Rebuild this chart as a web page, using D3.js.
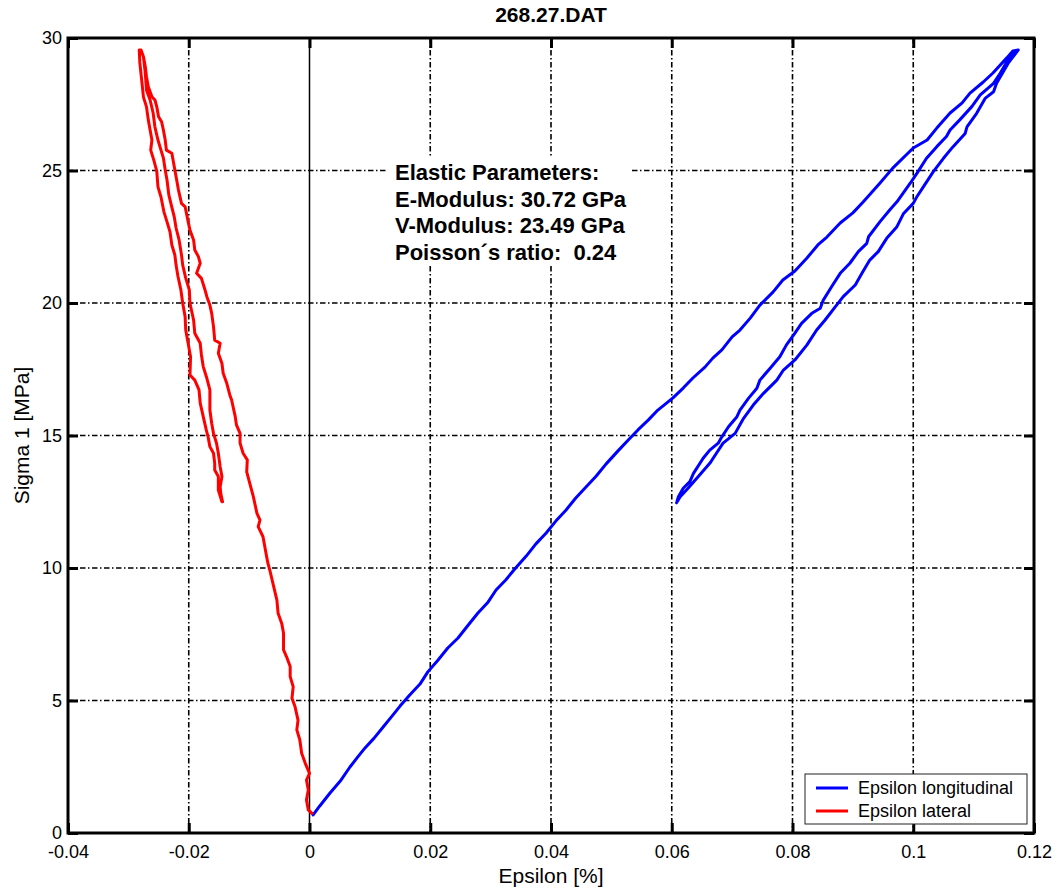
<!DOCTYPE html>
<html>
<head>
<meta charset="utf-8">
<script src="https://cdn.jsdelivr.net/npm/d3@7"></script>
<style>
  body { margin: 0; background: #fff; }
  svg { display: block; }
  text { font-family: "Liberation Sans", Arial, Helvetica, sans-serif; fill: #000; }
</style>
</head>
<body>
<svg id="chart" width="1059" height="890"></svg>
<script>
// ---- chart content -------------------------------------------------------
const chartTitle = "268.27.DAT";
const xTitle = "Epsilon [%]";
const yTitle = "Sigma 1 [MPa]";
const xTicks = [-0.04, -0.02, 0, 0.02, 0.04, 0.06, 0.08, 0.1, 0.12];
const xTickLabels = ["-0.04", "-0.02", "0", "0.02", "0.04", "0.06", "0.08", "0.1", "0.12"];
const yTicks = [0, 5, 10, 15, 20, 25, 30];
const yTickLabels = ["0", "5", "10", "15", "20", "25", "30"];
const seriesNames = ["Epsilon longitudinal", "Epsilon lateral"];
const seriesColors = ["#0000ff", "#ff0000"];
const infoLines = ["Elastic Parameters:", "E-Modulus: 30.72 GPa", "V-Modulus: 23.49 GPa", "Poisson\u00b4s ratio:  0.24"];

// ---- measured strain [%] / stress [MPa] pairs ----------------------------
// longitudinal strain: first loading, unloading, reloading
const longLoading = [[0.0006,0.68],[0.0017,1.02],[0.0034,1.51],[0.0051,1.96],[0.0067,2.49],[0.0080,2.87],[0.0092,3.21],[0.0107,3.58],[0.0122,4.00],[0.0137,4.42],[0.0150,4.79],[0.0166,5.21],[0.0183,5.62],[0.0196,6.08],[0.0213,6.53],[0.0229,6.98],[0.0246,7.36],[0.0263,7.85],[0.0279,8.30],[0.0296,8.72],[0.0309,9.17],[0.0325,9.55],[0.0340,9.96],[0.0359,10.45],[0.0375,10.91],[0.0392,11.32],[0.0408,11.77],[0.0425,12.19],[0.0441,12.64],[0.0458,13.06],[0.0475,13.47],[0.0491,13.92],[0.0511,14.42],[0.0528,14.83],[0.0544,15.21],[0.0561,15.58],[0.0577,15.96],[0.0602,16.42],[0.0619,16.79],[0.0635,17.17],[0.0655,17.58],[0.0668,17.92],[0.0683,18.23],[0.0700,18.72],[0.0713,18.98],[0.0730,19.43],[0.0746,19.92],[0.0768,20.42],[0.0784,20.87],[0.0804,21.21],[0.0824,21.70],[0.0842,22.19],[0.0857,22.49],[0.0879,23.02],[0.0900,23.40],[0.0917,23.81],[0.0945,24.53],[0.0966,25.09],[0.1000,25.85],[0.1023,26.15],[0.1039,26.60],[0.1061,27.17],[0.1081,27.55],[0.1094,27.92],[0.1116,28.34],[0.1132,28.68],[0.1155,29.25],[0.1165,29.51],[0.1174,29.55]];
const longUnloading = [[0.1157,29.04],[0.1138,28.29],[0.1133,27.97],[0.1119,27.72],[0.1105,27.16],[0.1089,26.65],[0.1086,26.40],[0.1066,25.90],[0.1050,25.46],[0.1033,24.95],[0.1017,24.39],[0.1006,24.01],[0.1000,23.76],[0.0984,23.38],[0.0973,22.88],[0.0956,22.44],[0.0942,21.94],[0.0928,21.62],[0.0915,21.12],[0.0904,20.68],[0.0884,20.24],[0.0873,19.92],[0.0854,19.36],[0.0840,18.98],[0.0824,18.42],[0.0804,17.85],[0.0785,17.47],[0.0774,17.09],[0.0752,16.59],[0.0735,16.15],[0.0719,15.65],[0.0705,15.08],[0.0685,14.71],[0.0674,14.33],[0.0663,13.95],[0.0644,13.45],[0.0627,13.01],[0.0614,12.69],[0.0608,12.46]];
const longReloading = [[0.0611,12.69],[0.0619,13.01],[0.0630,13.26],[0.0636,13.57],[0.0652,14.14],[0.0663,14.45],[0.0677,14.71],[0.0683,14.95],[0.0694,15.33],[0.0708,15.71],[0.0713,15.96],[0.0727,16.40],[0.0741,16.78],[0.0746,17.09],[0.0763,17.54],[0.0779,17.97],[0.0790,18.42],[0.0804,18.86],[0.0815,19.23],[0.0832,19.61],[0.0846,19.80],[0.0851,20.11],[0.0865,20.62],[0.0879,21.12],[0.0895,21.50],[0.0909,21.94],[0.0923,22.25],[0.0926,22.50],[0.0945,23.07],[0.0961,23.51],[0.0973,23.82],[0.0995,24.52],[0.1006,24.89],[0.1022,25.46],[0.1039,25.90],[0.1055,26.28],[0.1061,26.53],[0.1077,26.91],[0.1097,27.41],[0.1111,27.85],[0.1133,28.29],[0.1144,28.67],[0.1160,29.29],[0.1170,29.47]];

// lateral strain: first loading, unloading, reloading
const latLoading = [[0.0004,0.74],[-0.0002,0.87],[-0.0005,1.25],[-0.0002,1.62],[-0.0005,2.00],[0.0000,2.25],[-0.0007,2.63],[-0.0013,3.01],[-0.0016,3.51],[-0.0021,3.89],[-0.0019,4.26],[-0.0024,4.77],[-0.0029,5.08],[-0.0027,5.52],[-0.0032,5.90],[-0.0032,6.28],[-0.0038,6.65],[-0.0043,6.91],[-0.0043,7.54],[-0.0046,7.91],[-0.0052,8.29],[-0.0054,8.79],[-0.0060,9.36],[-0.0065,9.85],[-0.0069,10.19],[-0.0071,10.43],[-0.0074,10.80],[-0.0077,11.18],[-0.0085,11.56],[-0.0082,11.81],[-0.0087,12.06],[-0.0093,12.69],[-0.0099,13.20],[-0.0104,13.63],[-0.0103,14.08],[-0.0110,14.33],[-0.0115,14.71],[-0.0115,15.08],[-0.0121,15.40],[-0.0123,15.71],[-0.0129,16.34],[-0.0132,16.53],[-0.0137,16.97],[-0.0143,17.35],[-0.0145,17.72],[-0.0151,18.10],[-0.0148,18.48],[-0.0157,18.60],[-0.0159,19.11],[-0.0162,19.61],[-0.0165,19.92],[-0.0170,20.24],[-0.0173,20.49],[-0.0179,20.93],[-0.0187,21.12],[-0.0181,21.50],[-0.0184,21.75],[-0.0190,22.00],[-0.0192,22.38],[-0.0198,22.75],[-0.0201,23.07],[-0.0206,23.63],[-0.0212,23.76],[-0.0217,24.26],[-0.0220,24.64],[-0.0223,25.02],[-0.0226,25.40],[-0.0228,25.65],[-0.0237,25.77],[-0.0239,26.15],[-0.0242,26.53],[-0.0245,26.84],[-0.0250,27.03],[-0.0253,27.41],[-0.0256,27.66],[-0.0261,27.78],[-0.0267,28.16],[-0.0270,28.54],[-0.0272,28.92],[-0.0275,29.29],[-0.0278,29.48],[-0.0281,29.48]];
const latUnloading = [[-0.0282,29.55],[-0.0281,29.06],[-0.0278,28.42],[-0.0275,27.77],[-0.0270,27.40],[-0.0267,26.91],[-0.0264,26.53],[-0.0261,26.15],[-0.0263,25.77],[-0.0258,25.40],[-0.0253,24.98],[-0.0251,24.38],[-0.0246,24.00],[-0.0241,23.43],[-0.0236,23.06],[-0.0231,22.68],[-0.0228,22.19],[-0.0223,21.81],[-0.0221,21.43],[-0.0218,21.02],[-0.0213,20.49],[-0.0210,19.99],[-0.0206,19.48],[-0.0205,18.98],[-0.0201,18.48],[-0.0197,17.97],[-0.0198,17.28],[-0.0190,17.09],[-0.0183,16.72],[-0.0181,16.22],[-0.0176,15.71],[-0.0171,15.21],[-0.0168,14.95],[-0.0165,14.58],[-0.0159,14.33],[-0.0157,13.95],[-0.0157,13.70],[-0.0151,13.45],[-0.0151,12.94],[-0.0145,12.50]];
const latReloading = [[-0.0144,12.50],[-0.0147,12.82],[-0.0148,13.07],[-0.0145,13.45],[-0.0148,13.82],[-0.0151,14.33],[-0.0154,14.71],[-0.0159,15.08],[-0.0162,15.46],[-0.0165,15.96],[-0.0165,16.72],[-0.0170,17.16],[-0.0176,17.60],[-0.0179,18.04],[-0.0181,18.48],[-0.0190,18.86],[-0.0192,19.36],[-0.0198,19.99],[-0.0199,20.49],[-0.0205,20.94],[-0.0210,21.43],[-0.0212,21.81],[-0.0216,22.38],[-0.0221,22.83],[-0.0224,23.25],[-0.0229,23.70],[-0.0233,24.08],[-0.0236,24.64],[-0.0239,25.02],[-0.0242,25.47],[-0.0246,25.77],[-0.0251,26.15],[-0.0256,26.64],[-0.0259,27.17],[-0.0264,27.66],[-0.0270,28.04],[-0.0272,28.68],[-0.0275,29.28],[-0.0279,29.55]];

// ---- layout ---------------------------------------------------------------
const plot = { left: 68, right: 1034, top: 38, bottom: 833 };
const svg = d3.select("#chart");

const x = d3.scaleLinear().domain([-0.04, 0.12]).range([plot.left, plot.right]);
const y = d3.scaleLinear().domain([0, 30]).range([plot.bottom, plot.top]);

// dash-dot grid
const grid = svg.append("g").attr("stroke", "#000").attr("stroke-width", 1.6)
  .attr("stroke-dasharray", "5.5,2.5,1.5,2.5").attr("fill", "none");
grid.selectAll("line.gx").data(xTicks.filter(v => v !== 0 && v > -0.04 && v < 0.12)).join("line")
  .attr("class", "gx")
  .attr("x1", d => x(d)).attr("x2", d => x(d))
  .attr("y1", plot.top).attr("y2", plot.bottom);
grid.selectAll("line.gy").data(yTicks.filter(v => v > 0 && v < 30)).join("line")
  .attr("class", "gy")
  .attr("x1", plot.left).attr("x2", plot.right)
  .attr("y1", d => y(d)).attr("y2", d => y(d));

// zero strain reference
svg.append("line")
  .attr("x1", x(0)).attr("x2", x(0)).attr("y1", plot.top).attr("y2", plot.bottom)
  .attr("stroke", "#000").attr("stroke-width", 1.5);

// elastic parameter block on an opaque background
const info = svg.append("g");
info.append("rect").attr("x", 388).attr("y", 158).attr("width", 244).attr("height", 108)
  .attr("fill", "#fff");
info.selectAll("text").data(infoLines).join("text")
  .attr("x", 395).attr("y", (d, i) => 180 + i * 26.7)
  .attr("font-size", 22).attr("font-weight", "bold")
  .style("white-space", "pre")
  .text(d => d);

// series
const line = d3.line().x(d => x(d[0])).y(d => y(d[1]));
const series = [
  longLoading.concat(longUnloading, longReloading),
  latLoading.concat(latUnloading, latReloading)
];
svg.append("g").selectAll("path").data(series).join("path")
  .attr("d", line)
  .attr("fill", "none")
  .attr("stroke", (d, i) => seriesColors[i])
  .attr("stroke-width", 3)
  .attr("stroke-linejoin", "round")
  .attr("stroke-linecap", "round");

// axes: labels bottom/left, inward ticks on all four sides
function styleAxis(g) {
  g.select(".domain").remove();
  g.selectAll(".tick line").attr("stroke", "#000").attr("stroke-width", 3);
  g.selectAll(".tick text").attr("font-size", 18).attr("fill", "#000");
}
svg.append("g").attr("transform", `translate(0,${plot.bottom})`)
  .call(d3.axisBottom(x).tickValues(xTicks).tickSize(-10).tickPadding(12)
    .tickFormat((d, i) => xTickLabels[i]))
  .call(styleAxis);
svg.append("g").attr("transform", `translate(0,${plot.top})`)
  .call(d3.axisTop(x).tickValues(xTicks).tickSize(-10).tickFormat(""))
  .call(styleAxis);
svg.append("g").attr("transform", `translate(${plot.left},0)`)
  .call(d3.axisLeft(y).tickValues(yTicks).tickSize(-10).tickPadding(6)
    .tickFormat((d, i) => yTickLabels[i]))
  .call(styleAxis);
svg.append("g").attr("transform", `translate(${plot.right},0)`)
  .call(d3.axisRight(y).tickValues(yTicks).tickSize(-10).tickFormat(""))
  .call(styleAxis);

// frame
svg.append("rect")
  .attr("x", plot.left).attr("y", plot.top)
  .attr("width", plot.right - plot.left).attr("height", plot.bottom - plot.top)
  .attr("fill", "none").attr("stroke", "#000").attr("stroke-width", 3);

// titles
svg.append("text").attr("x", (plot.left + plot.right) / 2).attr("y", 22)
  .attr("text-anchor", "middle").attr("font-size", 21).attr("font-weight", "bold")
  .text(chartTitle);
svg.append("text").attr("x", (plot.left + plot.right) / 2).attr("y", 883)
  .attr("text-anchor", "middle").attr("font-size", 21).text(xTitle);
svg.append("text").attr("transform", `translate(29,${(plot.top + plot.bottom) / 2}) rotate(-90)`)
  .attr("text-anchor", "middle").attr("font-size", 21).text(yTitle);

// legend
const legend = svg.append("g").attr("transform", "translate(805,774)");
legend.append("rect").attr("width", 222).attr("height", 50)
  .attr("fill", "#fff").attr("stroke", "#222").attr("stroke-width", 1);
const items = legend.selectAll("g").data(seriesNames).join("g")
  .attr("transform", (d, i) => `translate(0,${14 + i * 23})`);
items.append("line").attr("x1", 11).attr("x2", 43)
  .attr("stroke", (d, i) => seriesColors[i]).attr("stroke-width", 3);
items.append("text").attr("x", 53).attr("dy", "0.36em")
  .attr("font-size", 18).text(d => d);
</script>
</body>
</html>
